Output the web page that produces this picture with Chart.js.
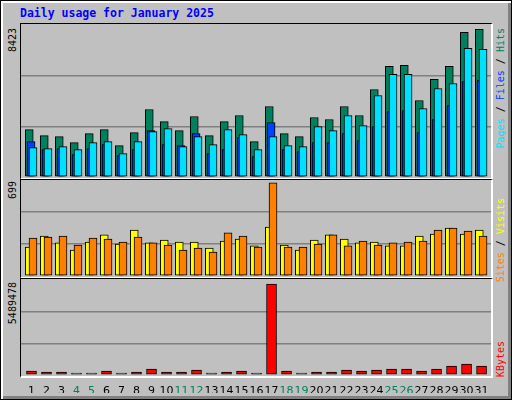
<!DOCTYPE html>
<html>
<head>
<meta charset="utf-8">
<script src="https://cdn.jsdelivr.net/npm/chart.js@4/dist/chart.umd.min.js"></script>
<style>
  html, body { margin: 0; padding: 0; }
  body { width: 512px; height: 400px; position: relative; overflow: hidden; background: #fff; }
  #frame {
    position: absolute; left: 0; top: 0; width: 510px; height: 398px;
    background: #c0c0c0; border: 1px solid #000;
    box-shadow: inset 2px 2px 0 #fff, inset -3px -3px 0 #808080;
  }
  #title {
    position: absolute; left: 20px; top: 6px;
    font: bold 11.5px "DejaVu Sans Mono", monospace; color: #0000ff;
  }
  .panel {
    position: absolute; left: 20px; width: 470px;
    border-top: 1px solid #000; border-left: 1px solid #000;
    border-right: 2px solid #fff; border-bottom: 2px solid #fff;
  }
  .vlab {
    position: absolute; writing-mode: vertical-rl; transform: rotate(180deg);
    font: 10px "DejaVu Sans Mono", monospace; white-space: nowrap; line-height: 10px;
  }
  canvas { position: absolute; }
</style>
</head>
<body>
<div id="frame"></div>
<div id="title">Daily usage for January 2025</div>

<div class="panel" style="top:23px;height:154px"></div>
<div class="panel" style="top:179px;height:97px"></div>
<div class="panel" style="top:278px;height:97px"></div>

<div class="vlab" style="left:8px;top:28px;color:#000">8423</div>
<div class="vlab" style="left:8px;top:181px;color:#000">699</div>
<div class="vlab" style="left:8px;top:282px;color:#000">5489478</div>

<div class="vlab" style="left:496px;top:28px"><span style="color:#00e0ff">Pages</span><span style="color:#000"> / </span><span style="color:#0040ff">Files</span><span style="color:#000"> / </span><span style="color:#00805c">Hits</span></div>
<div class="vlab" style="left:496px;top:198px"><span style="color:#ff8000">Sites</span><span style="color:#000"> / </span><span style="color:#ffff00">Visits</span></div>
<div class="vlab" style="left:496px;top:341px;color:#ff0000">KBytes</div>

<canvas id="c1" style="left:21px;top:25px;width:470px;height:152px" width="470" height="152"></canvas>
<canvas id="c2" style="left:21px;top:180px;width:470px;height:96px" width="470" height="96"></canvas>
<canvas id="c3" style="left:21px;top:280px;width:470px;height:113px" width="470" height="113"></canvas>

<script>
const days = Array.from({ length: 31 }, (_, i) => i + 1);
const weekend = [4, 5, 11, 12, 18, 19, 25, 26];

const hits = [2629, 2296, 2240, 1907, 2407, 2629, 1740, 2462, 3740, 3073, 2573, 3351, 2296, 3073, 3406, 1962,
  3906, 2407, 2240, 3295, 3184, 3906, 3406, 4850, 6128, 6183, 4239, 5406, 6128, 8016, 8183];
const files = [1962, 1518, 1574, 1240, 1574, 1796, 1185, 1518, 2573, 1796, 1740, 2407, 1296, 1518, 2184, 1129,
  3017, 1518, 1407, 1907, 1907, 2407, 2018, 2795, 3628, 3684, 2462, 3184, 3962, 5294, 5350];
const pages = [1629, 1574, 1685, 1518, 1907, 1962, 1296, 1962, 2518, 2684, 1685, 2240, 1796, 2629, 2351, 1518,
  2240, 1740, 1685, 2795, 2573, 3406, 2851, 4517, 5683, 5683, 3795, 4906, 5183, 7127, 7072];
const visits = [211, 291, 241, 189, 247, 299, 233, 335, 241, 262, 247, 247, 204, 254, 269, 219,
  357, 226, 189, 262, 299, 269, 241, 247, 219, 219, 291, 306, 349, 306, 335];
const sites = [277, 284, 291, 226, 277, 269, 247, 284, 241, 226, 189, 204, 175, 314, 291, 211,
  679, 211, 211, 233, 299, 219, 254, 226, 241, 247, 254, 335, 349, 327, 291];
const kbytes = [231000, 173000, 173000, 116000, 116000, 231000, 116000, 173000, 347000, 173000, 173000, 289000,
  116000, 173000, 231000, 116000, 5260000, 231000, 116000, 173000, 173000, 289000, 231000, 289000, 347000,
  347000, 231000, 347000, 520000, 636000, 520000];

const maxTop = 8423, maxMid = 699, maxBot = 5489478;

const pts = arr => arr.map((v, i) => ({ x: days[i], y: v }));

function xAxis(min, show) {
  return {
    type: 'linear', min: min, max: min + 31.33, display: show, offset: false,
    grid: { display: false, offset: false }, border: { display: false },
    ticks: show ? {
      stepSize: 1, includeBounds: false, autoSkip: false, maxRotation: 0, padding: 2,
      color: c => weekend.includes(c.tick.value) ? '#00805c' : '#000',
      font: { family: 'DejaVu Sans', size: 11 }
    } : { display: false },
    afterFit: s => { if (show) s.height = 18; }
  };
}

function yAxis(max) {
  return {
    min: 0, max: max,
    border: { display: false },
    ticks: { display: false, stepSize: max / 3 },
    grid: {
      drawTicks: false, lineWidth: 1.5,
      color: c => (c.tick.value > 0 && c.tick.value < max * 0.99) ? '#808080' : 'rgba(0,0,0,0)'
    },
    afterFit: s => { s.width = 0; }
  };
}

function bars(label, data, color, axis, w) {
  return {
    label, data: pts(data), xAxisID: axis, backgroundColor: color,
    borderColor: '#000', borderWidth: 1, borderSkipped: false, barThickness: w, grouped: false
  };
}

const common = {
  responsive: false, animation: false, maintainAspectRatio: false,
  layout: { padding: 0 },
  plugins: { legend: { display: false }, tooltip: { enabled: false } }
};

// first dataset is painted on top, so the front series come first
new Chart(document.getElementById('c1'), {
  type: 'bar',
  data: {
    datasets: [
      bars('Pages', pages, '#00e0ff', 'xp', 8),
      bars('Files', files, '#0040ff', 'xf', 8),
      bars('Hits', hits, '#00805c', 'xh', 8)
    ]
  },
  options: {
    ...common,
    scales: { xh: xAxis(0.45, false), xf: xAxis(0.33, false), xp: xAxis(0.2, false), y: yAxis(maxTop) }
  }
});

new Chart(document.getElementById('c2'), {
  type: 'bar',
  data: {
    datasets: [
      bars('Sites', sites, '#ff8000', 'xp', 8),
      bars('Visits', visits, '#ffff00', 'xh', 8)
    ]
  },
  options: {
    ...common,
    scales: { xh: xAxis(0.45, false), xp: xAxis(0.2, false), y: yAxis(maxMid) }
  }
});

new Chart(document.getElementById('c3'), {
  type: 'bar',
  data: {
    datasets: [bars('KBytes', kbytes, '#ff0000', 'x', 10)]
  },
  options: {
    ...common,
    scales: { x: xAxis(0.3, true), y: yAxis(maxBot) }
  }
});
</script>
</body>
</html>
